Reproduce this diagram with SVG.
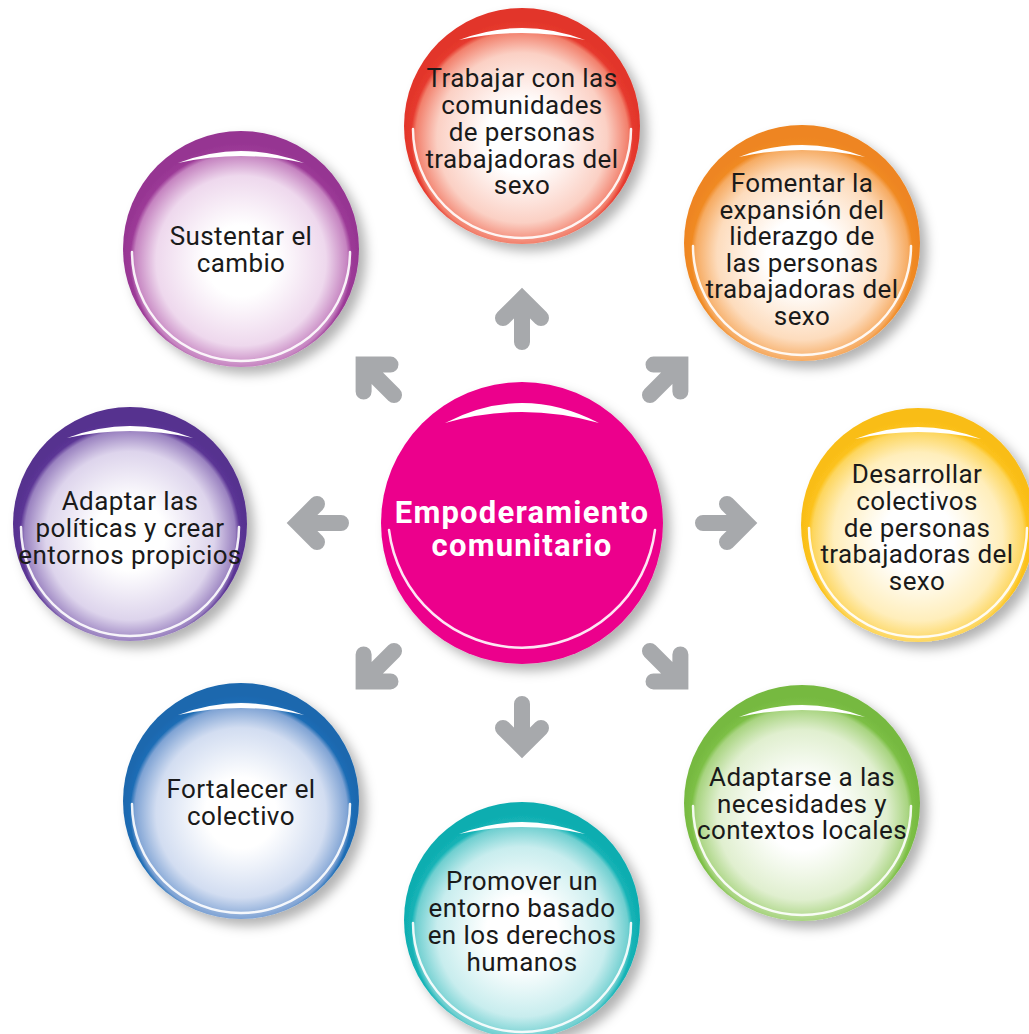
<svg xmlns="http://www.w3.org/2000/svg" width="1029" height="1034" viewBox="0 0 1029 1034">
<defs>
<style>
.t{font-family:Roboto,"Liberation Sans",sans-serif;font-size:26px;letter-spacing:0.4px;fill:#1a1a1a;text-anchor:middle}
.c{font-family:Roboto,"Liberation Sans",sans-serif;font-size:31px;letter-spacing:1.2px;font-weight:bold;fill:#ffffff;text-anchor:middle}
.hl{fill:none;stroke:#ffffff;stroke-width:2.5;stroke-linecap:round;opacity:0.9}
.cr{fill:#ffffff}
.arr{fill:none;stroke:#a7a9ac;stroke-width:16;stroke-linecap:round;stroke-linejoin:miter}
</style>
<filter id="sh" x="-20%" y="-20%" width="150%" height="150%">
<feDropShadow dx="7" dy="7" stdDeviation="6" flood-color="#000" flood-opacity="0.3"/>
</filter>
<radialGradient id="gRed" cx="50%" cy="55%" r="50%">
<stop offset="0" stop-color="#fff"/><stop offset="0.3" stop-color="#fff"/><stop offset="0.72" stop-color="#fbd0c4"/><stop offset="0.9" stop-color="#f2806c"/><stop offset="0.94" stop-color="#e63a2e"/><stop offset="1" stop-color="#e2352a"/>
</radialGradient>
<radialGradient id="gOra" cx="50%" cy="55%" r="50%">
<stop offset="0" stop-color="#fff"/><stop offset="0.3" stop-color="#fff"/><stop offset="0.72" stop-color="#fddcbd"/><stop offset="0.9" stop-color="#f6ab62"/><stop offset="0.94" stop-color="#f08a24"/><stop offset="1" stop-color="#ee8520"/>
</radialGradient>
<radialGradient id="gYel" cx="50%" cy="55%" r="50%">
<stop offset="0" stop-color="#fff"/><stop offset="0.3" stop-color="#fff"/><stop offset="0.72" stop-color="#ffeebb"/><stop offset="0.9" stop-color="#fdd65e"/><stop offset="0.94" stop-color="#fcc21b"/><stop offset="1" stop-color="#f9bd18"/>
</radialGradient>
<radialGradient id="gGre" cx="50%" cy="55%" r="50%">
<stop offset="0" stop-color="#fff"/><stop offset="0.3" stop-color="#fff"/><stop offset="0.72" stop-color="#e0efcf"/><stop offset="0.9" stop-color="#a8d480"/><stop offset="0.94" stop-color="#7cbf45"/><stop offset="1" stop-color="#76b941"/>
</radialGradient>
<radialGradient id="gTea" cx="50%" cy="55%" r="50%">
<stop offset="0" stop-color="#fff"/><stop offset="0.3" stop-color="#fff"/><stop offset="0.72" stop-color="#c8edee"/><stop offset="0.9" stop-color="#6fcfd0"/><stop offset="0.94" stop-color="#13b3b6"/><stop offset="1" stop-color="#10adb0"/>
</radialGradient>
<radialGradient id="gBlu" cx="50%" cy="55%" r="50%">
<stop offset="0" stop-color="#fff"/><stop offset="0.3" stop-color="#fff"/><stop offset="0.72" stop-color="#d2ddf1"/><stop offset="0.9" stop-color="#7fa3d4"/><stop offset="0.94" stop-color="#1e6db5"/><stop offset="1" stop-color="#1a67ae"/>
</radialGradient>
<radialGradient id="gPur" cx="50%" cy="55%" r="50%">
<stop offset="0" stop-color="#fff"/><stop offset="0.3" stop-color="#fff"/><stop offset="0.72" stop-color="#ddd4ec"/><stop offset="0.9" stop-color="#9a82c0"/><stop offset="0.94" stop-color="#5b3595"/><stop offset="1" stop-color="#56318f"/>
</radialGradient>
<radialGradient id="gMag" cx="50%" cy="55%" r="50%">
<stop offset="0" stop-color="#fff"/><stop offset="0.3" stop-color="#fff"/><stop offset="0.72" stop-color="#eed8ed"/><stop offset="0.9" stop-color="#c583c0"/><stop offset="0.94" stop-color="#9c3a97"/><stop offset="1" stop-color="#963592"/>
</radialGradient>
<g id="deco">
<path class="cr" d="M-63,-86 Q0,-110 63,-86 Q0,-100 -63,-86 Z"/>
<path class="hl" d="M-109,3 A109,109 0 0 0 109,3"/>
</g>
<path id="arrow" class="arr" d="M0,-181 V-222 M-19,-205 L0,-224 L19,-205"/>
</defs>

<rect width="1029" height="1034" fill="#ffffff"/>

<g id="connectors">
<use href="#arrow" transform="translate(522,523) rotate(0)"/>
<use href="#arrow" transform="translate(522,523) rotate(45)"/>
<use href="#arrow" transform="translate(522,523) rotate(90)"/>
<use href="#arrow" transform="translate(522,523) rotate(135)"/>
<use href="#arrow" transform="translate(522,523) rotate(180)"/>
<use href="#arrow" transform="translate(522,523) rotate(225)"/>
<use href="#arrow" transform="translate(522,523) rotate(270)"/>
<use href="#arrow" transform="translate(522,523) rotate(315)"/>
</g>

<g id="center">
<circle cx="522" cy="523" r="141" fill="#ec008c" filter="url(#sh)"/>
<path class="cr" d="M445,423 Q522,383 599,423 Q522,401 445,423 Z"/>
<path class="hl" d="M389,530 A134,134 0 0 0 655,530"/>
<text class="c" x="522" y="523">Empoderamiento</text>
<text class="c" x="522" y="556">comunitario</text>
</g>

<g id="n-top">
<circle cx="522" cy="126" r="118" fill="url(#gRed)" filter="url(#sh)"/>
<use href="#deco" transform="translate(522,126)"/>
<text class="t" x="522" y="87">Trabajar con las</text>
<text class="t" x="522" y="114">comunidades</text>
<text class="t" x="522" y="141">de personas</text>
<text class="t" x="522" y="168">trabajadoras del</text>
<text class="t" x="522" y="194">sexo</text>
</g>

<g id="n-topright">
<circle cx="802" cy="243" r="118" fill="url(#gOra)" filter="url(#sh)"/>
<use href="#deco" transform="translate(802,243)"/>
<text class="t" x="802" y="192">Fomentar la</text>
<text class="t" x="802" y="218.5">expansión del</text>
<text class="t" x="802" y="245">liderazgo de</text>
<text class="t" x="802" y="271.5">las personas</text>
<text class="t" x="802" y="298">trabajadoras del</text>
<text class="t" x="802" y="324.5">sexo</text>
</g>

<g id="n-right">
<circle cx="918" cy="525" r="117" fill="url(#gYel)" filter="url(#sh)"/>
<use href="#deco" transform="translate(918,525)"/>
<text class="t" x="917" y="483">Desarrollar</text>
<text class="t" x="917" y="510">colectivos</text>
<text class="t" x="917" y="536.5">de personas</text>
<text class="t" x="917" y="563">trabajadoras del</text>
<text class="t" x="917" y="590">sexo</text>
</g>

<g id="n-bottomright">
<circle cx="802" cy="803" r="118" fill="url(#gGre)" filter="url(#sh)"/>
<use href="#deco" transform="translate(802,803)"/>
<text class="t" x="802" y="786">Adaptarse a las</text>
<text class="t" x="802" y="812.5">necesidades y</text>
<text class="t" x="802" y="839">contextos locales</text>
</g>

<g id="n-bottom">
<circle cx="522" cy="920" r="118" fill="url(#gTea)" filter="url(#sh)"/>
<use href="#deco" transform="translate(522,920)"/>
<text class="t" x="522" y="890">Promover un</text>
<text class="t" x="522" y="917">entorno basado</text>
<text class="t" x="522" y="944">en los derechos</text>
<text class="t" x="522" y="971">humanos</text>
</g>

<g id="n-bottomleft">
<circle cx="241" cy="801" r="118" fill="url(#gBlu)" filter="url(#sh)"/>
<use href="#deco" transform="translate(241,801)"/>
<text class="t" x="241" y="798">Fortalecer el</text>
<text class="t" x="241" y="825">colectivo</text>
</g>

<g id="n-left">
<circle cx="130" cy="524" r="117" fill="url(#gPur)" filter="url(#sh)"/>
<use href="#deco" transform="translate(130,524)"/>
<text class="t" x="130" y="510">Adaptar las</text>
<text class="t" x="130" y="537">políticas y crear</text>
<text class="t" x="130" y="564">entornos propicios</text>
</g>

<g id="n-topleft">
<circle cx="241" cy="249" r="118" fill="url(#gMag)" filter="url(#sh)"/>
<use href="#deco" transform="translate(241,249)"/>
<text class="t" x="241" y="245">Sustentar el</text>
<text class="t" x="241" y="272">cambio</text>
</g>
</svg>
